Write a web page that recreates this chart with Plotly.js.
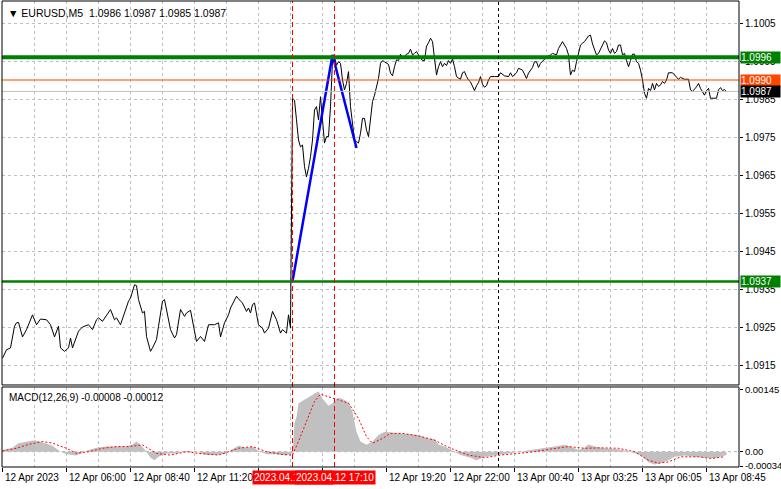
<!DOCTYPE html>
<html>
<head>
<meta charset="utf-8">
<script src="https://cdn.plot.ly/plotly-3.0.1.min.js"></script>
<style>html,body{margin:0;padding:0;background:#fff}#chart{width:781px;height:489px}</style>
</head>
<body>
<div id="chart"></div>
<script>
// ---- price series (bar index, close) ----
const priceBars = [0,2,4,6,7,8,10,12,15,17,19,22,24,26,28,29,31,33,34,35,38,40,43,45,47,48,50,52,54,56,57,59,61,63,64,66,67,68,70,71,72,74,75,77,78,80,81,82,84,86,87,89,91,92,94,96,97,99,101,103,106,108,109,111,113,114,117,118,120,122,123,124,125,126,128,130,131,133,135,137,139,140,142,143,144,
145,146,147,148,149,150,151,152,153,154,155,156,157,158,159,160,161,162,163,164,165,166,167,168,169,170,171,172,173,174,175,176,177,178,179,180,181,182,183,184,185,186,187,188,189,190,191,192,193,194,195,196,197,198,199,200,201,202,203,204,205,206,207,208,209,210,211,212,213,214,215,216,217,218,219,220,221,222,223,224,225,226,227,228,229,230,231,232,233,234,235,236,237,238,239,240,241,242,243,244,246,248,249,251,253,254,255,257,258,260,262,263,265,266,267,268,269,271,
272,274,275,277,278,280,282,283,284,285,286,287,288,289,290,291,293,294,295,296,297,298,300,301,302,303,304,305,306,307,308,309,310,311,312,313,314,315,316,317,318,319,320,321,322,323,324,325,326,327,328,329,330,331,332,333,335,337,338,339,341,343,344,345,347,348,349,351,352,353,354,357,358,359,360,361,362];
const priceVals = [1.09168,1.09190,1.09195,1.09252,1.09261,1.09262,1.09224,1.09243,1.09282,1.09256,1.09271,1.09269,1.09256,1.09224,1.09252,1.09195,1.09186,1.09195,1.09221,1.09195,1.09239,1.09250,1.09256,1.09243,1.09269,1.09274,1.09265,1.09282,1.09296,1.09269,1.09274,1.09256,1.09287,1.09318,1.09326,1.09361,1.09359,1.09322,1.09287,1.09291,1.09225,1.09186,1.09195,1.09217,1.09252,1.09318,1.09322,1.09296,1.09243,1.09221,1.09230,1.09296,1.09278,1.09287,1.09294,1.09239,1.09212,1.09225,1.09212,1.09256,1.09256,1.09261,1.09224,1.09261,1.09282,1.09300,1.09331,1.09324,1.09313,1.09291,1.09300,1.09287,1.09309,1.09313,1.09256,1.09247,1.09234,1.09247,1.09291,1.09269,1.09234,1.09243,1.09234,1.09282,1.09247,
1.09852,1.09847,1.09795,1.09742,1.09724,1.09729,1.09672,1.09645,1.09668,1.09698,1.09742,1.09821,1.09830,1.09795,1.09856,1.09795,1.09734,1.09751,1.09751,1.09830,1.09953,1.09961,1.09939,1.09948,1.09944,1.09900,1.09874,1.09891,1.09922,1.09830,1.09777,1.09742,1.09738,1.09734,1.09760,1.09799,1.09799,1.09768,1.09751,1.09799,1.09843,1.09860,1.09880,1.09904,1.09944,1.09951,1.09948,1.09944,1.09941,1.09918,1.09911,1.09935,1.09953,1.09951,1.09968,1.09957,1.09961,1.09968,1.09970,1.09981,1.09966,1.09970,1.09975,1.09966,1.09957,1.09951,1.09951,1.09989,1.09998,1.10010,1.10001,1.09957,1.09913,1.09935,1.09948,1.09935,1.09944,1.09938,1.09951,1.09944,1.09955,1.09935,1.09909,1.09905,1.09902,1.09919,1.09922,1.09909,1.09900,1.09895,1.09882,1.09872,1.09885,1.09893,1.09909,1.09889,1.09881,1.09885,1.09900,1.09909,1.09909,1.09909,1.09919,1.09911,1.09909,1.09919,1.09909,1.09919,1.09931,1.09926,1.09904,1.09918,1.09933,1.09948,1.09948,1.09933,1.09944,1.09954,
1.09960,1.09966,1.09970,1.09966,1.09983,1.10001,1.09983,1.09966,1.09913,1.09926,1.09922,1.09948,1.09968,1.09992,1.09997,1.10001,1.10016,1.10018,1.09995,1.09977,1.09966,1.09970,1.09992,1.10003,1.09998,1.09979,1.09970,1.09983,1.09970,1.09975,1.09992,1.09992,1.09966,1.09970,1.09951,1.09935,1.09951,1.09968,1.09968,1.09948,1.09944,1.09926,1.09900,1.09865,1.09852,1.09878,1.09872,1.09891,1.09874,1.09891,1.09883,1.09887,1.09896,1.09891,1.09900,1.09919,1.09919,1.09909,1.09902,1.09907,1.09902,1.09902,1.09874,1.09870,1.09882,1.09891,1.09878,1.09860,1.09872,1.09878,1.09852,1.09852,1.09874,1.09880,1.09872,1.09875,1.09869];

// ---- MACD main (histogram) and signal ----
const macdBars = [0,5,8,13,16,20,25,29,32,37,42,47,52,57,62,65,67,69,72,74,76,78,82,87,92,97,102,107,112,115,118,122,125,128,132,137,142,144,145,146,147,148,152,156,158,160,163,165,168,170,173,175,177,179,182,185,188,191,194,199,208,213,216,218,221,224,229,234,237,241,248,253,258,261,266,271,276,281,284,288,291,293,296,301,308,314,319,323,326,329,333,336,341,346,351,356,359,362];
const macdVals = [0.00004,0.00009,0.0002,0.00025,0.00027,0.00022,0.00014,0,-0.00006,-0.00009,0.00002,0.00009,0.00012,0.00012,0.00012,0.00017,0.00024,0.00016,0,-0.00014,-0.0002,-0.00012,-0.00004,-0.00004,0.00002,0,-0.00008,-0.00008,-0.00004,0.00006,0.00014,0.00009,0.00012,0.00002,-0.00006,-0.00006,-0.00009,-0.00004,-0.00005,0.00067,0.00082,0.00114,0.00125,0.00137,0.00142,0.00125,0.00108,0.00114,0.00127,0.00124,0.00116,0.00094,0.00047,0.00024,0.00016,0.00024,0.00039,0.00047,0.00045,0.00043,0.00039,0.00031,0.0003,0.00017,0.00012,0.00004,-0.00008,-0.00014,-0.0002,-0.00012,-0.00008,-0.00004,0,0.00002,0.00004,0.00009,0.00012,0.00016,0.00012,0.00004,0.00009,0.00017,0.00012,0.00008,0.00006,0,-0.00008,-0.00025,-0.0003,-0.00027,-0.0002,-0.00012,-0.00009,-0.00012,-0.00014,-0.00016,-0.00012,-0.00008];
const signalBars = [0,7,13,20,25,32,37,43,50,57,63,70,77,84,92,98,108,118,125,132,139,145,148,152,156,159,163,168,173,178,182,185,190,194,200,208,216,224,233,241,249,258,266,274,283,291,299,308,316,323,328,333,339,348,354,361];
const signalVals = [0.00002,0.00008,0.00017,0.00024,0.0002,0.00008,-0.00004,0,0.00008,0.00012,0.00012,0.00016,-0.00004,-0.00008,0,-0.00004,-0.00008,0.00008,0.00012,0,-0.00006,-0.00008,0.00024,0.00071,0.00118,0.00135,0.00129,0.00122,0.00114,0.00078,0.00035,0.0002,0.00031,0.00043,0.00043,0.00037,0.00027,0.00008,-0.00008,-0.00014,-0.00008,-0.00004,0,0.00006,0.00012,0.00008,0.00009,0.00008,0,-0.0002,-0.00027,-0.00024,-0.00012,-0.00012,-0.00016,-0.00012];

// ---- drawn objects ----
const zigzagBars = [145,165,177];
const zigzagVals = [1.0937,1.09966,1.09721];
const levelGreen = [1.0996, 1.0937];
const levelAsk = 1.0990;
const levelBid = 1.0987;
const vlineRed = [145, 166];
const vlineRedLabels = ['2023.04.12 15:25', '2023.04.12 17:10'];
const periodSep = [248];

// ---- axis ticks ----
const tickBars = [0,32,64,96,128,160,192,224,256,288,320,352];
const tickLabels = ['12 Apr 2023','12 Apr 06:00','12 Apr 08:40','12 Apr 11:20','','','12 Apr 19:20','12 Apr 22:00','13 Apr 00:40','13 Apr 03:25','13 Apr 06:05','13 Apr 08:45'];
const priceTicks = [1.0915,1.0925,1.0935,1.0945,1.0955,1.0965,1.0975,1.0985,1.0995,1.1005];
const priceTickText = ['1.0915','1.0925','1.0935','1.0945','1.0955','1.0965','1.0975','1.0985','1.0995','1.1005'];
const macdTicks = [0.00145, 0, -0.00034];
const macdTickText = ['0.00145','0.00','-0.00034'];
const titleText = '▼ EURUSD,M5  1.0986 1.0987 1.0985 1.0987';
const macdTitle = 'MACD(12,26,9) -0.00008 -0.00012';

const FONT = 'Liberation Sans, Arial, sans-serif';
const mainDom = [0.176, 1];
const macdDom = [0, 0.1717];

const traces = [
  {x: macdBars, y: macdVals, xaxis:'x', yaxis:'y2', type:'scatter', mode:'lines', fill:'tozeroy', fillcolor:'#c0c0c0', line:{width:0, color:'#c0c0c0'}, hoverinfo:'skip'},
  {x: signalBars, y: signalVals, xaxis:'x', yaxis:'y2', type:'scatter', mode:'lines', line:{width:1, color:'#ff0000', dash:'2px,2px'}, hoverinfo:'skip'},
  {x: priceBars, y: priceVals, xaxis:'x', yaxis:'y', type:'scatter', mode:'lines', line:{width:1, color:'#000'}, hoverinfo:'skip'},
  {x: zigzagBars, y: zigzagVals, xaxis:'x', yaxis:'y', type:'scatter', mode:'lines', line:{width:2.5, color:'#0000ff'}, hoverinfo:'skip'}
];

const shapes = [];
shapes.push({type:'line', xref:'paper', yref:'y', x0:0, x1:1, y0:levelBid, y1:levelBid, line:{color:'#c0c0c0', width:1}});
shapes.push({type:'line', xref:'paper', yref:'y', x0:0, x1:1, y0:levelAsk, y1:levelAsk, line:{color:'#ff4500', width:1}});
shapes.push({type:'line', xref:'paper', yref:'y', x0:0, x1:1, y0:levelGreen[0], y1:levelGreen[0], line:{color:'#008000', width:4}});
shapes.push({type:'line', xref:'paper', yref:'y', x0:0, x1:1, y0:levelGreen[1], y1:levelGreen[1], line:{color:'#008000', width:2.5}});
shapes.push({type:'line', xref:'paper', yref:'y2', x0:0, x1:1, y0:0, y1:0, line:{color:'#b0b0b0', width:1, dash:'3px,3px'}, layer:'below'});
vlineRed.forEach(b => shapes.push({type:'line', xref:'x', yref:'paper', x0:b, x1:b, y0:0, y1:1, line:{color:'#ff0000', width:1, dash:'5px,3px'}}));
periodSep.forEach(b => shapes.push({type:'line', xref:'x', yref:'paper', x0:b, x1:b, y0:0, y1:1, line:{color:'#000', width:1, dash:'3px,3px'}}));
shapes.push({type:'rect', xref:'paper', yref:'paper', x0:0, x1:1, y0:mainDom[0], y1:mainDom[1], line:{color:'#000', width:1}});
shapes.push({type:'rect', xref:'paper', yref:'paper', x0:0, x1:1, y0:macdDom[0], y1:macdDom[1], line:{color:'#000', width:1}});

const annotations = [];
annotations.push({xref:'paper', yref:'paper', x:0, y:1, xanchor:'left', yanchor:'top', xshift:4, yshift:-4, text:titleText, showarrow:false, font:{family:FONT, size:10.5, color:'#000'}});
annotations.push({xref:'paper', yref:'paper', x:0, y:macdDom[1], xanchor:'left', yanchor:'top', xshift:5, yshift:-3, text:macdTitle, showarrow:false, font:{family:FONT, size:10, color:'#000'}});
tickBars.forEach((b,i) => { if (tickLabels[i]) annotations.push({xref:'x', yref:'paper', x:b, y:0, xanchor:'left', yanchor:'top', xshift:0, yshift:-3, text:tickLabels[i], showarrow:false, font:{family:FONT, size:10, color:'#000'}}); });
vlineRed.forEach((b,i) => annotations.push({xref:'x', yref:'paper', x:b, y:0, xanchor:'center', yanchor:'top', yshift:-3, text:vlineRedLabels[i], showarrow:false, bgcolor:'#ff0000', borderpad:1, font:{family:FONT, size:10, color:'#fff'}}));
const tag = (v, bg) => ({xref:'paper', yref:'y', x:1, y:v, xanchor:'left', yanchor:'middle', xshift:1, width:39, height:11, align:'left', text:v.toFixed(4), showarrow:false, bgcolor:bg, borderpad:0, font:{family:FONT, size:10, color:'#fff'}});
annotations.push(tag(levelGreen[0], '#008000'));
annotations.push(tag(levelAsk, '#ff4500'));
annotations.push(tag(levelBid, '#000000'));
annotations.push(tag(levelGreen[1], '#008000'));

const layout = {
  width: 781, height: 489,
  margin: {l:2, r:42, t:1, b:22, pad:0},
  paper_bgcolor:'#ffffff', plot_bgcolor:'#ffffff',
  showlegend:false,
  font:{family:FONT, size:10, color:'#000'},
  xaxis: {
    range:[-0.25, 368.25], anchor:'y2', tickmode:'array', tickvals:tickBars, ticktext:tickBars.map(() => ''),
    ticks:'outside', ticklen:4, tickcolor:'#000', showticklabels:true,
    showgrid:true, gridcolor:'#c0c0c0', griddash:'3px,3px', gridwidth:1,
    minor:{tickmode:'linear', tick0:0, dtick:16, showgrid:true, gridcolor:'#c0c0c0', griddash:'3px,3px', ticks:''},
    zeroline:false, showline:false, fixedrange:true
  },
  yaxis: {
    domain: mainDom, range:[1.090974, 1.101079], side:'right', anchor:'x',
    tickmode:'array', tickvals:priceTicks, ticktext:priceTickText,
    ticks:'outside', ticklen:3, tickcolor:'#000', tickfont:{family:FONT, size:10, color:'#000'},
    showgrid:true, gridcolor:'#c0c0c0', griddash:'3px,3px', zeroline:false, showline:false, fixedrange:true
  },
  yaxis2: {
    domain: macdDom, range:[-0.00036, 0.00152], side:'right', anchor:'x',
    tickmode:'array', tickvals:macdTicks, ticktext:macdTickText,
    ticks:'outside', ticklen:3, tickcolor:'#000', tickfont:{family:FONT, size:9.5, color:'#000'},
    showgrid:false, zeroline:false, showline:false, fixedrange:true
  },
  shapes: shapes,
  annotations: annotations
};

Plotly.newPlot('chart', traces, layout, {staticPlot:true, displayModeBar:false});
</script>
</body>
</html>
